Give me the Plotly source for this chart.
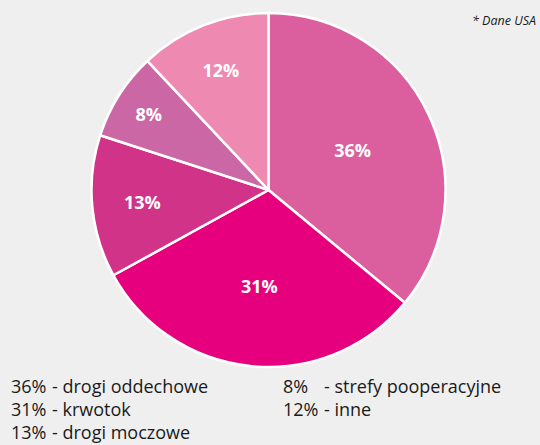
import plotly.graph_objects as go

labels = ["drogi oddechowe", "krwotok", "drogi moczowe", "strefy pooperacyjne", "inne"]
values = [36, 31, 13, 8, 12]
colors = ["#DB5F9E", "#E6007E", "#D03387", "#CB67A4", "#EE89B2"]
legend_cols = [[0, 1, 2], [3, 4]]

W, H = 540, 445
fig = go.Figure(go.Pie(
    labels=labels, values=values, sort=False, direction="clockwise", rotation=0,
    marker=dict(colors=colors, line=dict(color="white", width=2.5)),
    texttemplate="%{value}%", textposition="inside", insidetextorientation="horizontal",
    textfont=dict(family="Open Sans", size=18, color="white", weight="bold"),
    domain=dict(x=[91/W, 446/W], y=[78/H, 432/H]),
    showlegend=False, hoverinfo="skip",
))

ann = []
col_x = [9, 281]
row_y = [386, 409, 432]
for ci, idxs in enumerate(legend_cols):
    for ri, i in enumerate(idxs):
        y = 1 - row_y[ri] / H
        ann.append(dict(x=col_x[ci] / W, y=y, xref="paper", yref="paper", xanchor="left", yanchor="middle",
                        text=f"{values[i]}%", showarrow=False,
                        font=dict(family="Open Sans", size=18, color="#1a1a1a")))
        ann.append(dict(x=(col_x[ci] + 41) / W, y=y, xref="paper", yref="paper", xanchor="left", yanchor="middle",
                        text=f"- {labels[i]}", showarrow=False,
                        font=dict(family="Open Sans", size=18, color="#1a1a1a")))
ann.append(dict(x=538 / W, y=1 - 21 / H, xref="paper", yref="paper", xanchor="right", yanchor="middle",
                text="<i>* Dane USA</i>", showarrow=False,
                font=dict(family="Open Sans", size=12.5, color="#1a1a1a")))

fig.update_layout(width=W, height=H, margin=dict(l=0, r=0, t=0, b=0),
                  paper_bgcolor="#EFEFEF", plot_bgcolor="#EFEFEF", annotations=ann)
fig.write_html("out.html")
